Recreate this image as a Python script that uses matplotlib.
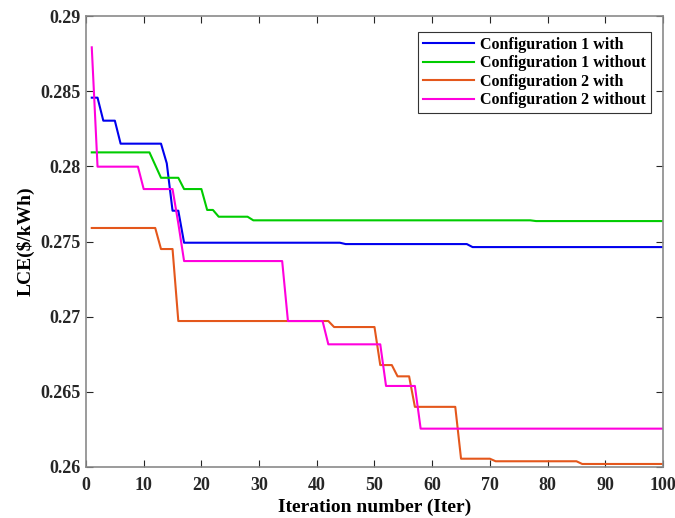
import matplotlib
matplotlib.use("Agg")
import matplotlib.pyplot as plt

plt.rcParams['font.family'] = ['Liberation Serif', 'DejaVu Serif']
plt.rcParams['font.weight'] = 'bold'

# breakpoints (iteration, LCE) of each convergence curve
c1_with_x = [1, 2, 3, 5, 6, 13, 14, 15, 16, 17, 44, 45, 66, 67, 100]
c1_with_y = [0.28457, 0.28457, 0.28304, 0.28304, 0.28151, 0.28151, 0.28020, 0.27705,
             0.27705, 0.27492, 0.27492, 0.27483, 0.27483, 0.27463, 0.27463]

c1_without_x = [1, 11, 13, 16, 17, 20, 21, 22, 23, 28, 29, 77, 78, 100]
c1_without_y = [0.28093, 0.28093, 0.27924, 0.27924, 0.27849, 0.27849, 0.27710, 0.27710,
                0.27665, 0.27665, 0.27641, 0.27641, 0.27636, 0.27636]

c2_with_x = [1, 12, 13, 15, 16, 42, 43, 50, 51, 53, 54, 56, 57, 64, 65, 70, 71, 85, 86, 100]
c2_with_y = [0.27590, 0.27590, 0.27450, 0.27450, 0.26971, 0.26971, 0.26931, 0.26931,
             0.26678, 0.26678, 0.26603, 0.26603, 0.26400, 0.26400, 0.26055, 0.26055,
             0.26038, 0.26038, 0.26020, 0.26020]

c2_without_x = [1, 2, 9, 10, 15, 16, 17, 34, 35, 41, 42, 51, 52, 57, 58, 100]
c2_without_y = [0.28792, 0.27998, 0.27998, 0.27849, 0.27849, 0.27620, 0.27370, 0.27370,
                0.26971, 0.26971, 0.26816, 0.26816, 0.26539, 0.26539, 0.26255, 0.26255]

labels = ['Configuration 1 with', 'Configuration 1 without',
          'Configuration 2 with', 'Configuration 2 without']

fig = plt.figure(figsize=(6.75, 5.18), dpi=100)
ax = fig.add_axes([0.1274, 0.0985, 0.8548, 0.8705])

ax.plot(c1_with_x, c1_with_y, color='#0000ee', lw=1.5, label=labels[0])
ax.plot(c1_without_x, c1_without_y, color='#00cc00', lw=1.5, label=labels[1])
ax.plot(c2_with_x, c2_with_y, color='#e4571c', lw=1.5, label=labels[2])
ax.plot(c2_without_x, c2_without_y, color='#ff00dd', lw=1.5, label=labels[3])

ax.set_xlim(0, 100)
ax.set_ylim(0.26, 0.29)
ax.set_xticks(range(0, 101, 10))
ax.set_yticks([0.26, 0.265, 0.27, 0.275, 0.28, 0.285, 0.29])
ax.set_yticklabels(['0.26', '0.265', '0.27', '0.275', '0.28', '0.285', '0.29'])
ax.tick_params(direction='in', top=True, right=True, labelsize=13, colors='#262626',
               length=5, width=0.8)
ax.tick_params(axis='x', pad=7.5)
ax.tick_params(axis='y', pad=4)
for sp in ax.spines.values():
    sp.set_color('#8a8a8a')
    sp.set_linewidth(1.2)

ax.set_xlabel('Iteration number (Iter)', fontsize=14, fontweight='bold', labelpad=3)
ax.set_ylabel('LCE(\\$/kWh)', fontsize=14, fontweight='bold', labelpad=4)

leg = ax.legend(loc='upper right', fontsize=11.5, fancybox=False, framealpha=1,
                edgecolor='#333333', bbox_to_anchor=(651 / 675, 1 - 32 / 518),
                bbox_transform=fig.transFigure, borderaxespad=0, handlelength=3.2,
                handletextpad=0.4, labelspacing=0.16, borderpad=0.3)
leg.get_frame().set_linewidth(0.8)
for t in leg.get_texts():
    t.set_fontweight('bold')

fig.savefig('out.png', dpi=100)
